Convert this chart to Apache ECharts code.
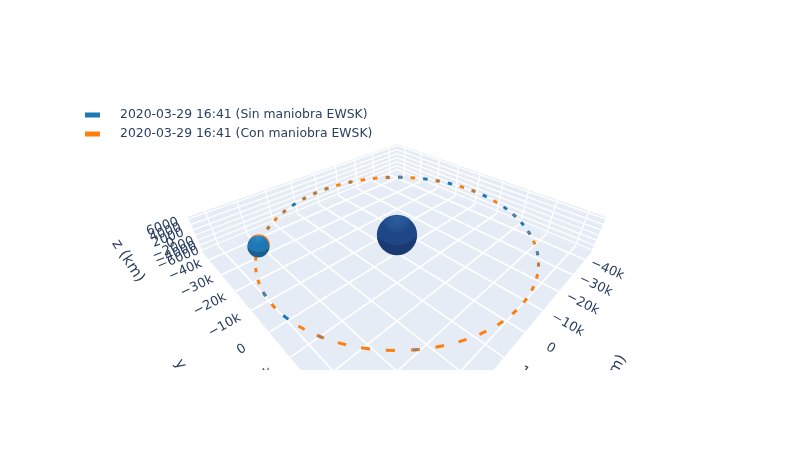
<!DOCTYPE html>
<html><head><meta charset="utf-8">
<style>html,body{margin:0;padding:0;background:#fff}#c{width:794px;height:450px}</style>
<script src="https://cdn.jsdelivr.net/npm/echarts@6/dist/echarts.min.js"></script>
</head><body><div id="c"></div>
<script>
// ---------- values (km, degrees) ----------
const seriesNames = ['2020-03-29 16:41 (Sin maniobra EWSK)', '2020-03-29 16:41 (Con maniobra EWSK)'];
const orbitRadius = 42.16;            // thousand km
// Position of each visible dash along the orbit, degrees from the near point
const blueDashes = [77.3, 91.7, 98.9, 106.1, 113.3, 127.7, 149.3, 163.7, 178.1, 242.9, 307.7, 322.1];
const orangeDashes = [-1.9, 5.3, 12.5, 19.7, 26.9, 34.1, 41.3, 48.5, 55.7, 62.9, 70.1, 84.5, 120.5, 134.9, 142.1,
  156.5, 170.9, 185.3, 192.5, 199.7, 206.9, 214.1, 221.3, 228.5, 235.7, 250.1, 257.3, 264.5, 271.7, 278.9, 286.1,
  293.3, 300.5, 314.9, 329.3, 336.5, 343.7, 350.9];
const blendedDashes = [5.3, 70.1, 77.3, 91.7, 106.1, 134.9, 156.5, 178.1, 185.3, 206.9, 221.3, 228.5, 235.7, 250.1, 264.5, 307.7, 336.5];
const planeTicks = [-40, -30, -20, -10, 0, 10, 20, 30, 40];
const planeTickLabels = ['\u221240k', '\u221230k', '\u221220k', '\u221210k', '0', '10k', '20k', '30k', '40k'];
const heightTicks = [-6, -4, -2, 0, 2, 4, 6];
const heightTickLabels = ['\u22126000', '\u22124000', '\u22122000', '0', '2000', '4000', '6000'];
const spheres = [
  { lon: 0, dist: 0, radius: 6.371, stops: ['#2e5b9f', '#22508f', '#1f4788', '#1b3a72'] },
  { lon: 278.2, dist: orbitRadius, radius: 3.3, stops: ['#ff9a3c', '#ff7f0e', '#ff7f0e', '#e8720c'], dx: 0.6, dy: -1.3 },
  { lon: 278.2, dist: orbitRadius, radius: 3.3, stops: ['#2f8cc9', '#2079b8', '#1f77b4', '#1b608f'] }
];

// ---------- scene camera ----------
const A = 45, Zlo = -7.2, Zhi = 6.7, S2 = Math.SQRT2;
const dist = 103.3, focal = 327, sinE = 0.577, cosE = 0.817, cx = 397, cy = 235;
function project(p, q, z) {
  const X = (q - p) / S2, D = -(q + p) / S2;
  const w = dist + D * cosE - z * sinE, s = focal / w;
  return [cx + s * X, cy - s * (D * sinE + z * cosE), s];
}
function lonToPQ(lon, r) {
  const a = lon * Math.PI / 180, X = r * Math.sin(a), D = -r * Math.cos(a);
  return [(-D - X) / S2, (X - D) / S2];
}
const xy = (p, q, z) => project(p, q, z).slice(0, 2);
const BREAK = [NaN, NaN];

function dashLine(list, half) {
  const out = [];
  list.forEach(lon => {
    const a = lonToPQ(lon - half, orbitRadius), b = lonToPQ(lon + half, orbitRadius);
    out.push(xy(a[0], a[1], 0), xy(b[0], b[1], 0), BREAK);
  });
  return out;
}
function gridLines(pairs) {
  const out = [];
  pairs.forEach(seg => { out.push(xy.apply(null, seg[0]), xy.apply(null, seg[1]), BREAK); });
  return out;
}
const floorSegs = [], wallSegs = [];
planeTicks.forEach(t => {
  floorSegs.push([[t, -A, Zlo], [t, A, Zlo]], [[-A, t, Zlo], [A, t, Zlo]]);
  wallSegs.push([[t, -A, Zlo], [t, -A, Zhi]], [[-A, t, Zlo], [-A, t, Zhi]]);
});
heightTicks.forEach(z => {
  wallSegs.push([[-A, -A, z], [A, -A, z]], [[-A, -A, z], [-A, A, z]]);
});
const panels = [
  [[-A, -A, Zlo], [-A, A, Zlo], [A, A, Zlo], [A, -A, Zlo]],
  [[-A, -A, Zlo], [A, -A, Zlo], [A, -A, Zhi], [-A, -A, Zhi]],
  [[-A, -A, Zlo], [-A, A, Zlo], [-A, A, Zhi], [-A, -A, Zhi]]
];

// label descriptors
const INK = '#2a3f5f';
const FONT = '"DejaVu Sans", verdana, arial, sans-serif';
const labels = [];
function angleOf(a, b) { return Math.atan2(b[1] - a[1], b[0] - a[0]); }
planeTicks.forEach((t, i) => {
  const pr = xy(t, A + 6.6, Zlo), pr2 = xy(t, A + 8.6, Zlo);
  labels.push({ at: pr, rot: angleOf(pr, pr2), text: planeTickLabels[i], size: 13 });
  const pl = xy(A + 7, t, Zlo), pl2 = xy(A + 5, t, Zlo);
  labels.push({ at: pl, rot: angleOf(pl, pl2), text: planeTickLabels[i], size: 13 });
});
heightTicks.forEach((z, i) => {
  const a = xy(A + 6.9, -A - 0.7, z), b = xy(A + 4.9, -A - 0.7, z);
  labels.push({ at: a, rot: angleOf(a, b), text: heightTickLabels[i], size: 13 });
});
labels.push({ at: [128, 261], rot: 57 * Math.PI / 180, text: 'z (km)', size: 15 });
labels.push({ at: [191, 381], rot: 57 * Math.PI / 180, text: 'y (km)', size: 15 });
labels.push({ at: [611, 377], rot: -60 * Math.PI / 180, text: 'x (km)', size: 15 });

const lineBase = { type: 'line', symbol: 'none', showSymbol: false, silent: true, animation: false, clip: true, connectNulls: false };

const option = {
  animation: false,
  backgroundColor: '#fff',
  grid: { left: 0, right: 0, top: 0, bottom: 0 },
  xAxis: { type: 'value', min: 0, max: 794, show: false },
  yAxis: { type: 'value', min: 0, max: 450, inverse: true, show: false },
  legend: {
    orient: 'vertical', left: 80, top: 103, itemWidth: 15, itemHeight: 5, itemGap: 5,
    selectedMode: false, icon: 'rect',
    data: seriesNames,
    textStyle: { color: INK, fontFamily: FONT, fontSize: 12.4, padding: [0, 0, 0, 15], lineHeight: 14 }
  },
  graphic: [{ type: 'rect', z: 100, silent: true, shape: { x: 0, y: 370, width: 794, height: 80 }, style: { fill: '#fff' } }],
  series: [
    { type: 'custom', silent: true, animation: false, z: 1, coordinateSystem: 'cartesian2d',
      data: panels.map((_, i) => [i]),
      renderItem: (params, api) => ({
        type: 'polygon',
        shape: { points: panels[api.value(0)].map(v => api.coord(xy(v[0], v[1], v[2]))) },
        style: { fill: '#E5ECF6' }
      }) },
    Object.assign({}, lineBase, { name: 'walls', z: 2, data: gridLines(wallSegs), lineStyle: { color: '#fff', width: 1.3 }, itemStyle: { color: '#fff' } }),
    Object.assign({}, lineBase, { name: 'floor', z: 2, data: gridLines(floorSegs), lineStyle: { color: '#fff', width: 1.7 }, itemStyle: { color: '#fff' } }),
    Object.assign({}, lineBase, { name: seriesNames[0], z: 3, data: dashLine(blueDashes, 1.3), lineStyle: { color: '#1f77b4', width: 3, cap: 'butt' }, itemStyle: { color: '#1f77b4' } }),
    Object.assign({}, lineBase, { name: seriesNames[1], z: 3, data: dashLine(orangeDashes, 1.3), lineStyle: { color: '#ff7f0e', width: 3, cap: 'butt' }, itemStyle: { color: '#ff7f0e' } }),
    Object.assign({}, lineBase, { name: 'blend', z: 4, data: dashLine(blendedDashes, 0.75), lineStyle: { color: '#7f7f7f', width: 3, cap: 'butt', opacity: 0.85 }, itemStyle: { color: '#7f7f7f' } }),
    { type: 'custom', silent: true, animation: false, z: 5, coordinateSystem: 'cartesian2d',
      data: spheres.map((_, i) => [i]),
      renderItem: (params, api) => {
        const sp = spheres[api.value(0)];
        const pq = lonToPQ(sp.lon, sp.dist), P = project(pq[0], pq[1], 0);
        const c = api.coord([P[0] + (sp.dx || 0), P[1] + (sp.dy || 0)]);
        const st = sp.stops;
        return {
          type: 'circle',
          shape: { cx: c[0], cy: c[1], r: sp.radius * P[2] },
          style: { fill: new echarts.graphic.RadialGradient(0.5, 0.08, 0.74, [
            { offset: 0, color: st[0] }, { offset: 0.42, color: st[1] }, { offset: 0.5, color: st[2] },
            { offset: 0.9, color: st[2] }, { offset: 0.9, color: st[3] }, { offset: 1, color: st[3] }]) }
        };
      } },
    { type: 'custom', silent: true, animation: false, z: 6, coordinateSystem: 'cartesian2d', clip: false,
      data: labels.map((_, i) => [i]),
      renderItem: (params, api) => {
        const L = labels[api.value(0)], c = api.coord(L.at);
        return {
          type: 'text', x: c[0], y: c[1], rotation: -L.rot,
          style: { text: L.text, fill: INK, align: 'center', verticalAlign: 'middle',
            font: L.size + 'px ' + FONT }
        };
      } }
  ]
};
echarts.init(document.getElementById('c'), null, { renderer: 'canvas' }).setOption(option);
</script></body></html>
